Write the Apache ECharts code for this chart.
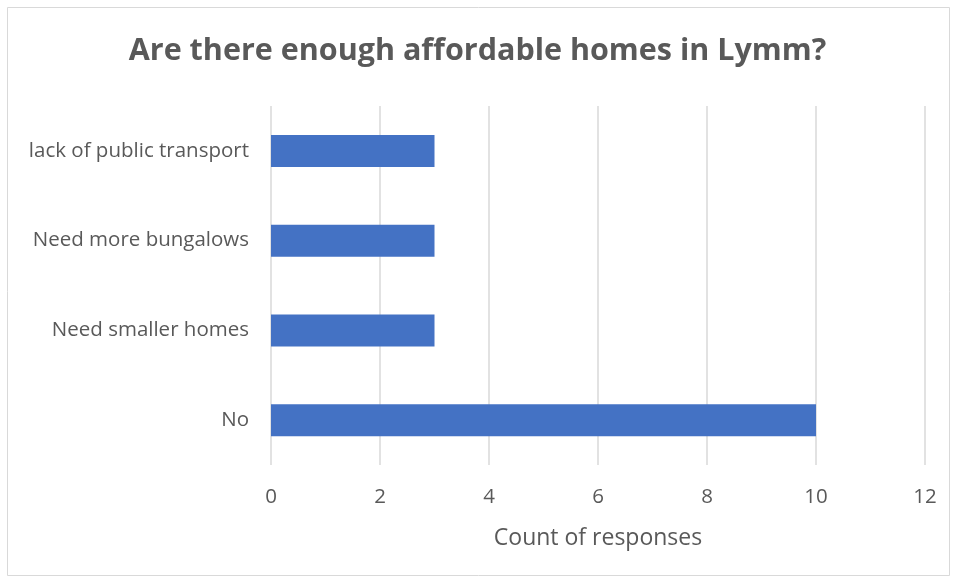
<!DOCTYPE html>
<html><head><meta charset="utf-8">
<script src="https://cdn.jsdelivr.net/npm/echarts@6/dist/echarts.min.js"></script>
<style>html,body{margin:0;padding:0;background:#fff}#c{width:955px;height:579px}</style>
</head><body><div id="c"></div>
<script>
const categories = ['No', 'Need smaller homes', 'Need more bungalows', 'lack of public transport'];
const counts = [10, 3, 3, 3];
const titleText = 'Are there enough affordable homes in Lymm?';
const xAxisName = 'Count of responses';

const chart = echarts.init(document.getElementById('c'), null, {renderer: 'canvas'});
chart.setOption({
  backgroundColor: '#fff',
  animation: false,
  title: {
    text: titleText, left: 'center', top: 31,
    textStyle: {fontFamily: 'Open Sans', fontWeight: 'bold', fontSize: 30.5, color: '#595959'}
  },
  graphic: [{
    type: 'rect', shape: {x: 7.5, y: 7.5, width: 942, height: 568},
    style: {fill: 'none', stroke: '#d9d9d9', lineWidth: 1}, silent: true, z: -1
  }],
  grid: {left: 271, right: 30, top: 106, bottom: 114, containLabel: false},
  xAxis: {
    type: 'value', min: 0, max: 12, interval: 2,
    name: xAxisName, nameLocation: 'middle', nameGap: 62,
    nameTextStyle: {fontFamily: 'Open Sans', fontSize: 23, color: '#595959'},
    axisLine: {show: false}, axisTick: {show: false},
    axisLabel: {fontFamily: 'Open Sans', fontSize: 20.5, color: '#595959', margin: 22},
    splitLine: {lineStyle: {color: '#d9d9d9', width: 1.5}}
  },
  yAxis: {
    type: 'category', data: categories,
    axisLine: {show: false}, axisTick: {show: false},
    axisLabel: {fontFamily: 'Open Sans', fontSize: 20.5, color: '#595959', margin: 22}
  },
  series: [{
    type: 'bar', data: counts, barWidth: 32,
    itemStyle: {color: '#4472c4'}
  }]
});
</script></body></html>
